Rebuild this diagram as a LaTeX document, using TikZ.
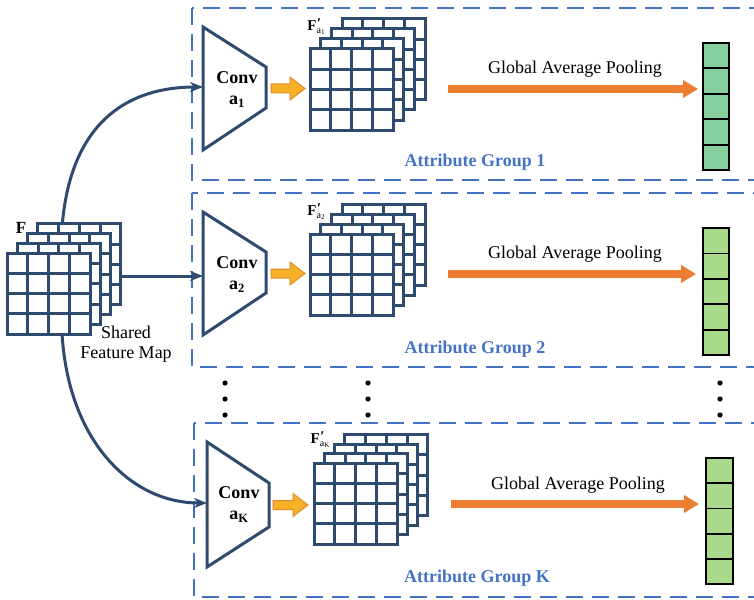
\documentclass[tikz,border=0pt]{standalone}
\usepackage{fontspec}
\setmainfont{Liberation Serif}
\usetikzlibrary{arrows.meta}
\definecolor{dkblue}{RGB}{46,74,110}
\definecolor{grpblue}{RGB}{68,114,196}
\definecolor{gaporange}{RGB}{237,125,49}
\definecolor{blkfill}{RGB}{245,176,40}
\definecolor{blkdraw}{RGB}{228,140,40}
\definecolor{vecgreenA}{RGB}{134,208,160}
\definecolor{vecgreenB}{RGB}{169,218,140}
\tikzset{
  gridline/.style={dkblue,line width=3pt,line cap=rect},
  convbox/.style={dkblue,line width=3pt,fill=white},
  grpbox/.style={grpblue,line width=1.6pt,dash pattern=on 17pt off 9pt},
  grptext/.style={grpblue,font=\fontsize{18}{21}\selectfont\bfseries},
  plain/.style={font=\fontsize{18}{21}\selectfont,inner sep=0pt},
  convtext/.style={font=\fontsize{18}{21}\selectfont\bfseries,inner sep=0pt},
  flabel/.style={font=\fontsize{15}{17}\selectfont,inner sep=0pt},
  conn/.style={dkblue,line width=3pt,-{Stealth[length=13pt,width=10pt,inset=4pt]}},
  gap/.style={gaporange,line width=8pt,-{Triangle[length=15pt,width=17pt]}},
  blk/.style={fill=blkfill,draw=blkdraw,line width=1pt,line join=miter},
  vec/.style={draw=black,line width=1.8pt},
  dotmark/.style={fill=black},
}
\newcommand\fmapstack[4]{%
  \foreach \k in {3,2,1,0}{%
    \begin{scope}[shift={(#1+#3*\k,#2+#4*\k)}]
      \fill[white] (0,0) rectangle (83,81);
      \foreach \i in {0,...,4}{%
        \draw[gridline] (\i*20.75,0) -- (\i*20.75,81);
        \draw[gridline] (0,\i*20.25) -- (83,\i*20.25);
      }
    \end{scope}}}
\newcommand\blockarrow[4]{% tail x, head base x, tip x, center y
  \draw[blk] (#1,#4-4.5) -- (#2,#4-4.5) -- (#2,#4-11.5) -- (#3,#4) -- (#2,#4+11.5) -- (#2,#4+4.5) -- (#1,#4+4.5) -- cycle;}
\newcommand\gvec[5]{% left, top, width, cell h, colour
  \foreach \j in {0,...,4}{%
    \draw[vec,fill=#5] (#1,#2+#4*\j) rectangle (#1+#3,#2+#4*\j+#4);}}
\newcommand\fprime[1]{\textbf{F}\makebox[0pt][l]{\raisebox{0.2ex}{\textbf{\kern0.5pt′}}}\raisebox{-0.45ex}{\fontsize{10}{11}\selectfont a\raisebox{-0.35ex}{\fontsize{7}{8}\selectfont #1}}}
\begin{document}
\begin{tikzpicture}[x=1pt,y=-1pt]
\path[use as bounding box] (0,0) rectangle (754,599);
\clip (0,0) rectangle (754,599);

% group boxes
\draw[grpbox] (192,8) rectangle (775,180);
\draw[grpbox] (192,193) rectangle (775,367);
\draw[grpbox] (194,423) rectangle (775,597);

% connectors (behind shared map)
\coordinate (Ftop) at (62,228);
\coordinate (Fright) at (121,276);
\coordinate (Fbot) at (62,333);
\coordinate (c1in) at (203,87);
\coordinate (c2in) at (203,276);
\coordinate (ckin) at (207,503);
\draw[conn] (Ftop) .. controls (70,120) and (130,87) .. (c1in);
\draw[conn] (Fright) -- (c2in);
\draw[conn] (Fbot) .. controls (68,440) and (130,503) .. (ckin);

% shared feature map
\fmapstack{7}{253}{10.3}{-9.7}
\node[font=\fontsize{17}{19}\selectfont\bfseries,inner sep=0pt] (Flab) at (21,228) {F};
\node[plain,align=center] (shared) at (126,344) {Shared\\[-1pt]Feature Map};

% conv trapezoids
\draw[convbox] (203,27) -- (266,67) -- (266,108) -- (203,150) -- cycle;
\draw[convbox] (203,212) -- (266,252) -- (266,293) -- (203,335) -- cycle;
\draw[convbox] (207,442) -- (269,483) -- (269,527) -- (207,567) -- cycle;
\node[convtext] (conv1) at (237,78) {Conv};
\node[convtext] (a1) at (237,102) {a\textsubscript{1}};
\node[convtext] (conv2) at (237,263) {Conv};
\node[convtext] (a2) at (237,287) {a\textsubscript{2}};
\node[convtext] (convk) at (239,493) {Conv};
\node[convtext] (ak) at (239,517) {a\textsubscript{K}};

% block arrows
\blockarrow{271}{290}{305}{88.5}
\blockarrow{271}{290}{305}{273.5}
\blockarrow{273}{293}{308}{505}

% feature stacks
\fmapstack{310}{49}{10.7}{-10}
\fmapstack{310}{234}{10.7}{-10}
\fmapstack{314}{463}{10.3}{-9.5}
\node[flabel] (f1) at (316,27) {\fprime{1}};
\node[flabel] (f2) at (316,212) {\fprime{2}};
\node[flabel] (fk) at (320,440) {\fprime{K}};

% GAP arrows
\coordinate (g1s) at (448,89);
\coordinate (g1e) at (698,89);
\coordinate (g2s) at (448,274);
\coordinate (g2e) at (696,274);
\coordinate (gks) at (451,504);
\coordinate (gke) at (699,504);
\draw[gap] (g1s) -- (g1e);
\draw[gap] (g2s) -- (g2e);
\draw[gap] (gks) -- (gke);
\node[plain] (gap1) at (575,69) {Global Average Pooling};
\node[plain] (gap2) at (575,254) {Global Average Pooling};
\node[plain] (gapk) at (578,485) {Global Average Pooling};

% vectors
\gvec{703}{43}{26}{25.4}{vecgreenA}
\gvec{703}{228}{26}{25.4}{vecgreenB}
\gvec{706}{458}{27}{25.2}{vecgreenB}

% group labels
\node[grptext] (ag1) at (475,162) {Attribute Group 1};
\node[grptext] (ag2) at (475,349) {Attribute Group 2};
\node[grptext] (agk) at (477,578) {Attribute Group K};

% ellipsis dots
\foreach \x in {225,368,720}{
  \foreach \y in {383,399,415}{
    \fill[dotmark] (\x,\y) circle (2.6);
  }
}
\end{tikzpicture}
\end{document}
